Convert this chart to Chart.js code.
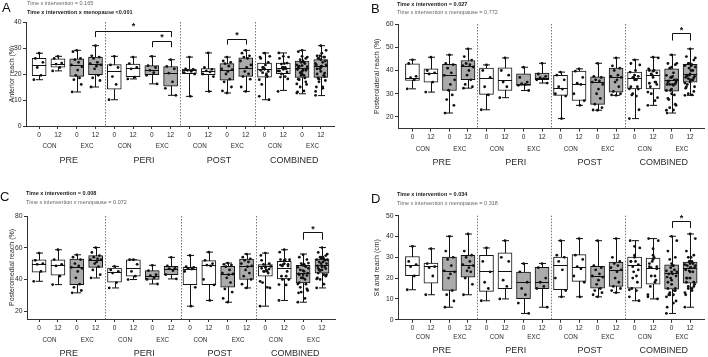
<!DOCTYPE html>
<html><head><meta charset="utf-8">
<script src="https://cdn.jsdelivr.net/npm/chart.js@4.4.1/dist/chart.umd.min.js"></script>
<style>
html,body{margin:0;padding:0;background:#fff;}
#wrap{position:relative;width:708px;height:357px;overflow:hidden;background:#fff;}
canvas{position:absolute;}
</style></head><body>
<div id="wrap">
<canvas id="cA" width="354" height="178" style="left:0;top:0"></canvas>
<canvas id="cB" width="354" height="178" style="left:354px;top:0"></canvas>
<canvas id="cC" width="354" height="179" style="left:0;top:178px"></canvas>
<canvas id="cD" width="354" height="179" style="left:354px;top:178px"></canvas>
</div>
<script>
// ---------- categories ----------
const groups = ['PRE', 'PERI', 'POST', 'COMBINED'];
const arms = ['CON', 'EXC'];
const times = ['0', '12'];

// ---------- box statistics [min, q1, median, q3, max] ----------
// order per group: CON 0, CON 12, EXC 0, EXC 12 ; groups PRE, PERI, POST, COMBINED
const statsA = [
  [17.8,19.4,23.6,26.0,28.0],[21.2,22.6,24.0,25.8,26.8],[13.1,19.1,23.5,25.8,29.1],[15.0,19.7,23.8,26.5,30.9],
  [10.1,14.2,21.0,23.6,26.8],[18.1,19.0,22.3,23.8,26.5],[16.2,19.7,21.4,23.2,26.8],[11.8,15.3,20.3,22.9,25.5],
  [11.4,20.1,21.4,21.9,26.5],[13.3,19.7,21.0,22.1,28.1],[12.7,17.6,21.7,24.0,26.5],[13.3,19.1,22.3,26.2,29.1],
  [10.1,18.8,22.0,24.2,28.1],[13.7,20.1,22.2,24.2,28.1],[12.4,18.7,22.3,25.0,29.1],[11.7,18.7,23.0,25.5,30.9]
];
const statsB = [
  [32.1,35.7,36.9,42.9,44.6],[30.7,35.0,38.9,40.7,45.7],[21.7,31.4,37.9,42.6,46.7],[32.4,36.0,42.1,44.3,49.3],
  [23.1,29.7,36.9,41.0,42.4],[28.3,31.4,36.0,41.1,45.4],[31.4,33.6,34.3,38.6,41.4],[34.6,36.0,36.9,38.9,43.1],
  [19.3,29.3,32.6,37.9,39.3],[25.0,27.1,34.3,39.7,40.7],[22.9,25.4,35.0,37.3,43.1],[29.3,30.7,37.1,41.0,45.4],
  [19.3,32.1,36.9,39.3,44.6],[25.0,32.1,37.9,40.3,45.7],[21.7,31.1,36.0,40.7,46.7],[29.3,35.0,38.6,42.6,49.3]
];
const statsC = [
  [38.8,44.5,49.7,52.4,56.6],[36.7,42.6,48.9,52.4,58.7],[31.5,36.7,47.6,52.8,55.5],[40.9,47.6,52.4,55.1,60.1],
  [34.6,38.2,44.5,47.2,48.2],[39.9,42.0,47.2,52.4,52.4],[37.1,39.9,42.4,45.5,48.9],[40.3,43.0,46.8,48.2,53.9],
  [23.1,36.7,46.8,47.6,55.1],[26.7,36.7,48.9,51.8,57.2],[25.6,35.1,43.4,48.2,50.3],[34.6,39.9,48.2,52.8,56.0],
  [23.1,42.0,48.2,49.3,56.6],[26.7,40.3,47.2,51.4,58.7],[25.6,37.8,44.0,48.9,56.0],[34.6,44.0,49.3,52.8,60.1]
];
const statsD = [
  [14.4,21.2,26.1,30.4,35.3],[12.0,17.6,25.6,27.2,34.1],[6.0,14.1,23.2,30.1,40.1],[12.0,20.4,26.1,30.9,41.2],
  [9.1,13.6,23.2,30.9,34.5],[10.0,14.9,23.6,32.1,38.0],[3.0,10.1,18.1,22.9,27.0],[6.0,14.9,18.1,25.2,27.0],
  [11.0,14.4,26.1,30.1,38.0],[11.0,18.4,25.2,31.3,39.0],[11.0,15.2,21.2,25.6,38.0],[13.0,16.0,24.0,27.7,39.0],
  [9.1,15.2,26.1,30.1,38.0],[10.0,17.1,24.8,29.6,39.0],[3.0,14.7,22.4,26.4,40.1],[6.0,17.6,24.8,27.7,41.2]
];

// ---------- individual values (PRE, PERI, POST; COMBINED = all three pooled) ----------
const ptsA = [
  [28.0,26.0,24.5,22.5,19.5,17.8],[26.8,26.0,24.2,23.8,22.5,21.2],
  [29.1,28.6,26.0,25.5,24.5,23.5,22.8,21.5,19.5,18.5,17.8,16.0,13.1],
  [30.9,27.0,26.5,26.0,24.5,24.0,23.5,23.0,22.0,19.5,18.5,17.5,15.0],
  [26.8,23.5,22.5,19.0,16.0,10.1],[26.5,24.0,22.5,22.0,18.8,18.1],
  [26.8,23.2,22.5,21.4,20.5,19.5,16.2],[25.5,22.9,22.0,20.3,17.0,14.5,11.8],
  [26.5,22.0,21.8,21.4,21.0,20.5,20.0,11.4],[28.1,22.5,21.8,21.2,20.8,20.0,19.0,13.3],
  [26.5,25.0,24.5,24.0,23.0,22.0,21.7,21.0,20.0,18.0,17.0,15.0,13.5,12.7],
  [29.1,28.0,27.0,26.5,26.0,25.0,23.5,22.5,21.0,20.0,19.0,18.0,15.0,13.3]
];
const ptsB = [
  [44.6,43.0,37.5,36.9,36.0,32.1],[45.7,40.0,39.0,38.5,35.0,30.7],
  [46.7,43.0,42.5,41.0,39.0,37.9,36.0,34.0,31.5,29.5,27.5,25.0,21.7],
  [49.3,46.0,44.5,43.0,42.5,42.1,41.5,40.0,38.0,36.0,34.0,33.0,32.4],
  [42.4,40.0,37.0,33.0,29.5,23.1],[45.4,40.0,38.0,35.0,33.0,28.3],
  [41.4,37.0,35.0,34.3,34.0,33.6,31.4],[43.1,38.5,37.5,36.9,36.5,36.0,34.6],
  [39.3,38.0,36.0,33.0,32.0,30.0,29.0,19.3],[40.7,39.7,37.0,34.5,34.0,30.0,27.0,25.0],
  [43.1,37.5,37.0,36.0,35.5,35.0,34.0,32.0,30.0,28.0,25.5,24.0,23.0,22.9],
  [45.4,42.0,41.0,40.0,38.0,37.5,37.0,36.0,35.0,33.0,31.0,30.0,29.5,29.3]
];
const ptsC = [
  [56.6,52.0,50.0,49.5,45.0,38.8],[58.7,52.5,49.5,48.5,42.0,36.7],
  [55.5,54.0,52.5,50.0,48.5,47.6,47.0,45.0,41.0,37.0,35.0,33.0,31.5],
  [60.1,57.0,55.0,54.0,53.0,52.5,52.4,51.0,50.0,48.0,46.0,43.0,40.9],
  [48.2,46.0,45.0,44.0,38.0,34.6],[52.4,52.4,49.5,45.0,42.0,39.9],
  [48.9,45.5,43.0,42.4,41.0,40.0,37.1],[53.9,48.5,47.0,46.8,45.5,43.0,40.3],
  [55.1,48.0,47.5,47.0,46.5,45.0,35.0,23.1],[57.2,52.0,50.0,49.0,48.5,40.0,36.5,26.7],
  [50.3,49.5,49.0,48.0,46.0,44.0,43.4,43.0,41.0,38.0,34.0,32.0,28.0,25.6],
  [56.0,54.0,53.0,52.0,51.0,50.0,48.5,48.0,46.0,44.0,42.0,40.0,37.0,34.6]
];
const ptsD = [
  [35.3,28.0,26.5,25.5,21.0,14.4],[34.1,27.0,25.5,25.0,21.0,12.0],
  [40.1,33.0,30.0,29.0,26.0,23.5,23.0,22.0,20.0,14.0,12.0,9.0,6.0],
  [41.2,33.0,31.0,30.0,28.0,26.5,26.0,25.0,23.5,23.0,20.0,17.0,12.0],
  [34.5,28.0,23.0,18.0,15.0,9.1],[38.0,30.0,28.0,19.0,16.0,10.0],
  [27.0,23.0,18.0,15.0,12.0,8.0,3.0],[27.0,25.0,20.0,18.0,16.0,15.0,6.0],
  [38.0,31.0,30.0,28.0,24.0,20.0,14.0,11.0],[39.0,31.0,29.0,25.5,24.5,21.0,18.0,11.0],
  [38.0,26.0,25.0,24.0,22.0,21.0,20.5,19.0,17.0,15.0,14.0,13.0,12.0,11.0],
  [39.0,30.0,28.0,27.0,26.0,25.0,24.0,23.0,20.0,18.0,16.0,15.0,14.0,13.0]
];

// ---------- y tick labels ----------
const yTicksA = [0, 10, 20, 30, 40];
const yTicksB = [20, 30, 40, 50, 60];
const yTicksC = [20, 40, 60, 80];
const yTicksD = [0, 10, 20, 30, 40, 50];

// ---------- significance brackets [from box, to box, bar value, leg end value, star value] ----------
const sigA = [[3, 7, 36.7, 34.2, 39.2], [6, 7, 32.6, 30.3, 34.9], [10, 11, 33.5, 31.3, 35.8]];
const sigB = [[14, 15, 56.0, 52.9, 58.3]];
const sigC = [[14, 15, 69.8, 65.0, 73.3]];
const sigD = [[14, 15, 47.6, 44.1, 50.0]];

// ---------- texts ----------
const titlesY = ['Anterior reach (%)', 'Posterolateral reach (%)', 'Posteromedial reach (%)', 'Sit and reach (cm)'];
const notes = [
  [['Time x intervention = 0.165', false], ['Time x intervention x menopause <0.001', true]],
  [['Time x intervention = 0.027', true], ['Time x intervention x menopause = 0.772', false]],
  [['Time x intervention = 0.008', true], ['Time x intervention x menopause = 0.072', false]],
  [['Time x intervention = 0.034', true], ['Time x intervention x menopause = 0.318', false]]
];
const letters = ['A', 'B', 'C', 'D'];

const FONT = '"Liberation Sans", Arial, Helvetica, sans-serif';
const TXT = '#2a2a2a';
const JIT = [0, -0.2, 0.2, -0.1, 0.1, -0.28, 0.28, 0.05, -0.05, 0.15, -0.15, 0.24, -0.24, 0.0];

const deco = {
  id: 'deco',
  beforeDatasetsDraw(chart) {
    const o = chart.options.plugins.deco;
    const {ctx, chartArea: a} = chart; const x = chart.scales.x, y = chart.scales.y;
    ctx.save();
    ctx.strokeStyle = '#777'; ctx.lineWidth = 1; ctx.setLineDash([1.5, 1.5]);
    [3.5, 7.5, 11.5].forEach(v => {
      const px = Math.round(x.getPixelForValue(v)) + 0.5;
      ctx.beginPath(); ctx.moveTo(px, a.top); ctx.lineTo(px, a.bottom); ctx.stroke();
    });
    ctx.setLineDash([]);
    ctx.strokeStyle = '#111'; ctx.lineWidth = 1;
    o.stats.forEach((s, i) => {
      const cx = Math.round(x.getPixelForValue(i)) + 0.5;
      const y0 = y.getPixelForValue(s[0]), y4 = y.getPixelForValue(s[4]);
      ctx.beginPath(); ctx.moveTo(cx, y0); ctx.lineTo(cx, y4);
      ctx.moveTo(cx - 3.5, y0); ctx.lineTo(cx + 3.5, y0);
      ctx.moveTo(cx - 3.5, y4); ctx.lineTo(cx + 3.5, y4);
      ctx.stroke();
    });
    ctx.restore();
  },
  afterDatasetDraw(chart, args) {
    if (args.index !== 0) return;
    const o = chart.options.plugins.deco;
    const {ctx} = chart; const x = chart.scales.x, y = chart.scales.y;
    ctx.save(); ctx.strokeStyle = '#111'; ctx.lineWidth = 1;
    o.stats.forEach((s, i) => {
      const cx = x.getPixelForValue(i);
      const my = Math.round(y.getPixelForValue(s[2])) + 0.5;
      ctx.beginPath(); ctx.moveTo(cx - 7, my); ctx.lineTo(cx + 7, my); ctx.stroke();
    });
    ctx.restore();
  },
  afterDatasetsDraw(chart) {
    const o = chart.options.plugins.deco;
    const {ctx} = chart; const x = chart.scales.x, y = chart.scales.y;
    ctx.save(); ctx.strokeStyle = '#111'; ctx.lineWidth = 1; ctx.fillStyle = '#111';
    o.sig.forEach(b => {
      const x1 = Math.round(x.getPixelForValue(b[0])) + 0.5, x2 = Math.round(x.getPixelForValue(b[1])) + 0.5;
      const yt = Math.round(y.getPixelForValue(b[2])) + 0.5, ye = y.getPixelForValue(b[3]);
      ctx.beginPath(); ctx.moveTo(x1, ye); ctx.lineTo(x1, yt); ctx.lineTo(x2, yt); ctx.lineTo(x2, ye); ctx.stroke();
      ctx.font = 'bold 9px ' + FONT; ctx.textAlign = 'center'; ctx.textBaseline = 'alphabetic';
      ctx.fillText('*', (x1 + x2) / 2, y.getPixelForValue(b[4]) + 5);
    });
    ctx.restore();
  },
  afterDraw(chart) {
    const o = chart.options.plugins.deco;
    const {ctx} = chart; const x = chart.scales.x;
    ctx.save(); ctx.fillStyle = TXT; ctx.textAlign = 'center'; ctx.textBaseline = 'middle';
    // time tick labels
    ctx.font = '6.5px ' + FONT;
    for (let i = 0; i < 16; i++) ctx.fillText(times[i % 2], x.getPixelForValue(i), o.tickY);
    // arm labels
    ctx.font = '6.3px ' + FONT;
    for (let i = 0; i < 8; i++) ctx.fillText(arms[i % 2], x.getPixelForValue(i * 2 + 0.5) + 1, o.armY);
    // group labels
    ctx.font = '9px ' + FONT;
    groups.forEach((g, k) => ctx.fillText(g, x.getPixelForValue(k * 4 + 1.5) + 1.5, o.groupY));
    // panel letter
    ctx.textAlign = 'left'; ctx.textBaseline = 'alphabetic';
    ctx.font = '13px ' + FONT; ctx.fillStyle = '#111';
    ctx.fillText(o.letter, o.letterX, o.letterY);
    // notes
    ctx.textBaseline = 'middle';
    o.notes.forEach((n, k) => {
      ctx.font = (n[1] ? 'bold ' : '') + '5.5px ' + FONT;
      ctx.fillStyle = n[1] ? '#222' : '#666';
      ctx.fillText(n[0], o.noteX, o.noteY[k]);
    });
    ctx.restore();
  }
};

function build(id, p) {
  const W = p.W, H = p.H;
  const boxData = p.stats.map((s, i) => ({x: i, y: [s[1], s[3]]}));
  const colors = p.stats.map((s, i) => (i % 4 < 2) ? '#ffffff' : '#ababab');
  const all = p.pts.concat([0, 1, 2, 3].map(k => p.pts[k].concat(p.pts[4 + k], p.pts[8 + k])));
  const pts = [];
  all.forEach((arr, i) => arr.forEach((v, j) => pts.push({x: i + JIT[j % JIT.length], y: v})));
  new Chart(document.getElementById(id), {
    type: 'bar',
    data: {
      datasets: [
        {type: 'bar', data: boxData, backgroundColor: colors, borderColor: '#111', borderWidth: 1,
         borderSkipped: false, barThickness: 14, order: 1},
        {type: 'scatter', data: pts, pointRadius: 1.4, pointBackgroundColor: '#111', pointBorderWidth: 0,
         pointBorderColor: '#111', order: 0}
      ]
    },
    options: {
      responsive: false, animation: false, devicePixelRatio: 1,
      layout: {padding: {left: 0, top: p.T, right: W - p.R, bottom: 0}},
      plugins: {legend: {display: false}, tooltip: {enabled: false},
        deco: {stats: p.stats, sig: p.sig, tickY: p.tickY, armY: p.armY, groupY: p.groupY,
               letter: p.letter, letterX: p.letterX, letterY: p.letterY, notes: p.notes, noteX: p.noteX, noteY: p.noteY}},
      scales: {
        x: {type: 'linear', min: p.xMin, max: p.xMax, offset: false,
            afterBuildTicks: s => { s.ticks = Array.from({length: 16}, (_, i) => ({value: i})); },
            afterFit: s => { s.height = H - p.B; },
            ticks: {display: false},
            grid: {display: true, offset: false, drawOnChartArea: false, drawTicks: true, tickLength: 3, color: '#333', lineWidth: 1},
            border: {display: true, color: '#333', width: 1}},
        y: {type: 'linear', min: p.yMin, max: p.yMax,
            afterBuildTicks: s => { s.ticks = p.yTicks.map(v => ({value: v})); },
            afterFit: s => { s.width = p.L; },
            ticks: {font: {size: 6.8, family: FONT}, color: TXT, padding: 1.5},
            grid: {display: true, drawOnChartArea: false, drawTicks: true, tickLength: 3, color: '#333', lineWidth: 1},
            border: {display: true, color: '#333', width: 1},
            title: {display: true, text: p.title, font: {size: 7, family: FONT}, color: TXT, padding: {top: p.titlePad, bottom: 0}}}
      }
    },
    plugins: [deco]
  });
}

build('cA', {W: 354, H: 178, L: 26, R: 334, T: 22, B: 126, xMin: -0.7, xMax: 15.7, yMin: 0, yMax: 40, yTicks: yTicksA,
  stats: statsA, pts: ptsA, sig: sigA, title: titlesY[0], titlePad: 7.5, tickY: 135, armY: 146, groupY: 160.5,
  letter: letters[0], letterX: 2, letterY: 12, notes: notes[0], noteX: 27, noteY: [3.5, 12.3]});
build('cB', {W: 354, H: 178, L: 44, R: 353, T: 24, B: 128.6, xMin: -0.78, xMax: 15.75, yMin: 15, yMax: 60, yTicks: yTicksB,
  stats: statsB, pts: ptsB, sig: sigB, title: titlesY[1], titlePad: 18.5, tickY: 137, armY: 149, groupY: 163,
  letter: letters[1], letterX: 17, letterY: 13, notes: notes[1], noteX: 43, noteY: [4.2, 12.7]});
build('cC', {W: 354, H: 179, L: 27, R: 335, T: 38, B: 141, xMin: -0.64, xMax: 15.69, yMin: 15, yMax: 80, yTicks: yTicksC,
  stats: statsC, pts: ptsC, sig: sigC, title: titlesY[2], titlePad: 7.5, tickY: 150, armY: 162, groupY: 175.5,
  letter: letters[2], letterX: 0, letterY: 23, notes: notes[2], noteX: 26, noteY: [15, 24]});
build('cD', {W: 354, H: 179, L: 44, R: 353, T: 37.7, B: 141.7, xMin: -0.78, xMax: 15.75, yMin: 0, yMax: 50, yTicks: yTicksD,
  stats: statsD, pts: ptsD, sig: sigD, title: titlesY[3], titlePad: 18.5, tickY: 150, armY: 159, groupY: 173,
  letter: letters[3], letterX: 17, letterY: 25, notes: notes[3], noteX: 43, noteY: [16, 25]});
</script>
</body></html>
